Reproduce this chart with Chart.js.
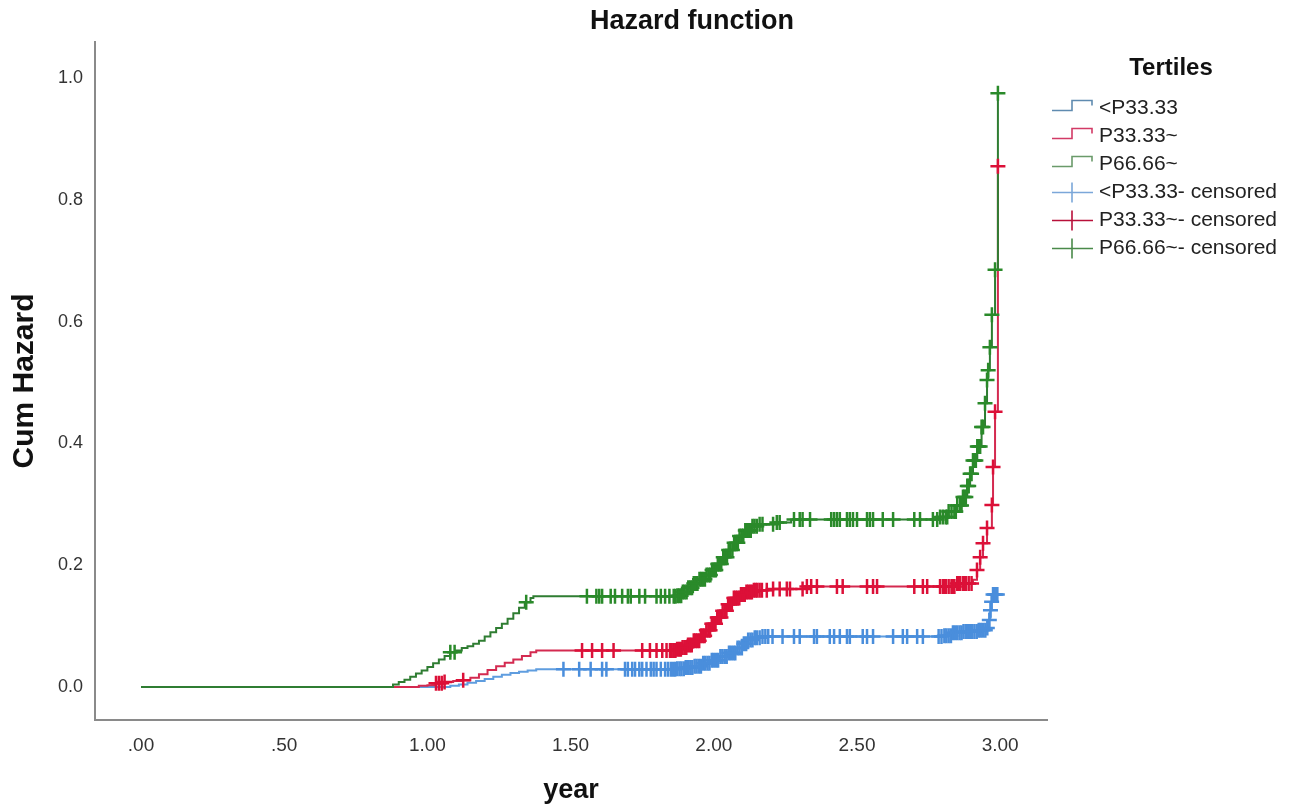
<!DOCTYPE html>
<html>
<head>
<meta charset="utf-8">
<title>Hazard function</title>
<script src="https://cdn.jsdelivr.net/npm/chart.js@4.4.1/dist/chart.umd.min.js"></script>
<style>
  body { margin: 0; background: #fff; }
  #wrap { width: 1303px; height: 804px; }
</style>
</head>
<body>
<div id="wrap"><canvas id="hazardChart"></canvas></div>
<script>
// axis ticks
const xTicks = [0, 0.5, 1, 1.5, 2, 2.5, 3];
const xTickLabels = [".00", ".50", "1.00", "1.50", "2.00", "2.50", "3.00"];
const yTicks = [0, 0.2, 0.4, 0.6, 0.8, 1.0];
const yTickLabels = ["0.0", "0.2", "0.4", "0.6", "0.8", "1.0"];

const chartTitle = "Hazard function";
const groups = ["<P33.33", "P33.33~", "P66.66~"];
const legendTitle = "Tertiles";

// cumulative hazard: step times (year) and values
const lowTime = [0, 1.08, 1.11, 1.14, 1.17, 1.20, 1.23, 1.26, 1.29, 1.32, 1.35, 1.38, 1.87, 1.90, 1.93, 1.96, 1.99, 2.02, 2.05, 2.08, 2.10, 2.12, 2.14, 2.17, 2.80, 2.83, 2.87, 2.92, 2.955, 2.962, 2.966, 2.970, 2.975, 2.995];
const lowHaz = [0, 0.002, 0.004, 0.007, 0.010, 0.013, 0.017, 0.020, 0.023, 0.025, 0.027, 0.029, 0.030, 0.032, 0.034, 0.039, 0.044, 0.050, 0.056, 0.064, 0.071, 0.077, 0.081, 0.083, 0.084, 0.089, 0.091, 0.093, 0.097, 0.110, 0.126, 0.140, 0.152, 0.152];

const midTime = [0, 0.97, 1.00, 1.03, 1.06, 1.09, 1.12, 1.15, 1.18, 1.21, 1.24, 1.27, 1.30, 1.33, 1.36, 1.38, 1.87, 1.89, 1.91, 1.93, 1.95, 1.97, 1.99, 2.01, 2.03, 2.05, 2.07, 2.09, 2.11, 2.14, 2.20, 2.32, 2.85, 2.905, 2.919, 2.93, 2.94, 2.954, 2.971, 2.975, 2.982, 2.992];
const midHaz = [0, 0.002, 0.003, 0.006, 0.008, 0.010, 0.011, 0.015, 0.021, 0.028, 0.034, 0.040, 0.045, 0.051, 0.057, 0.060, 0.062, 0.065, 0.069, 0.076, 0.084, 0.093, 0.104, 0.114, 0.125, 0.136, 0.146, 0.152, 0.156, 0.159, 0.161, 0.165, 0.170, 0.176, 0.192, 0.213, 0.236, 0.261, 0.299, 0.361, 0.452, 0.855];

const highTime = [0, 0.86, 0.88, 0.90, 0.92, 0.94, 0.96, 0.98, 1.00, 1.02, 1.04, 1.06, 1.08, 1.10, 1.12, 1.14, 1.16, 1.18, 1.20, 1.22, 1.24, 1.26, 1.28, 1.30, 1.32, 1.34, 1.36, 1.37, 1.87, 1.89, 1.91, 1.93, 1.95, 1.97, 1.99, 2.01, 2.03, 2.05, 2.07, 2.09, 2.11, 2.13, 2.16, 2.21, 2.27, 2.79, 2.82, 2.85, 2.87, 2.885, 2.895, 2.905, 2.92, 2.935, 2.947, 2.954, 2.958, 2.964, 2.971, 2.982, 2.992];
const highHaz = [0, 0.000, 0.004, 0.008, 0.012, 0.017, 0.022, 0.027, 0.033, 0.039, 0.045, 0.051, 0.057, 0.060, 0.064, 0.067, 0.071, 0.076, 0.083, 0.090, 0.097, 0.104, 0.112, 0.121, 0.130, 0.139, 0.146, 0.149, 0.150, 0.156, 0.163, 0.170, 0.177, 0.184, 0.192, 0.202, 0.213, 0.225, 0.237, 0.248, 0.257, 0.264, 0.267, 0.270, 0.275, 0.279, 0.288, 0.298, 0.312, 0.330, 0.350, 0.372, 0.395, 0.427, 0.466, 0.504, 0.520, 0.558, 0.611, 0.685, 0.975];

// censored times (year)
const lowCens = [1.475, 1.53, 1.57, 1.61, 1.625, 1.69, 1.70, 1.715, 1.725, 1.74, 1.75, 1.765, 1.78, 1.79, 1.80, 1.815, 1.83, 1.84,
  1.85, 1.858, 1.865, 1.872, 1.88, 1.887, 1.895, 1.902, 1.91, 1.918, 1.925, 1.933, 1.94, 1.948, 1.955, 1.963, 1.97, 1.978, 1.985, 1.993,
  2.0, 2.008, 2.015, 2.023, 2.03, 2.038, 2.045, 2.053, 2.06, 2.068, 2.075, 2.083, 2.09, 2.098, 2.105, 2.113, 2.12, 2.128, 2.135, 2.143,
  2.15, 2.16, 2.17, 2.18, 2.19, 2.205, 2.24, 2.28, 2.30, 2.35, 2.36, 2.405, 2.42, 2.44, 2.465, 2.475, 2.52, 2.535, 2.556, 2.626, 2.66,
  2.675, 2.71, 2.73, 2.785, 2.795, 2.805, 2.812, 2.82, 2.828, 2.835, 2.842, 2.85, 2.858, 2.865, 2.872, 2.88, 2.888, 2.895, 2.902, 2.91,
  2.918, 2.925, 2.932, 2.94, 2.948, 2.955, 2.962, 2.966, 2.970, 2.975, 2.98, 2.985, 2.99];
const midCens = [1.03, 1.04, 1.05, 1.06, 1.125, 1.54, 1.575, 1.61, 1.65, 1.75, 1.777, 1.80, 1.82, 1.835,
  1.847, 1.853, 1.86, 1.866, 1.872, 1.879, 1.885, 1.891, 1.898, 1.904, 1.91, 1.917, 1.923, 1.93, 1.936, 1.942, 1.949, 1.955, 1.962,
  1.968, 1.974, 1.981, 1.987, 1.993, 2.0, 2.006, 2.012, 2.019, 2.025, 2.031, 2.038, 2.044, 2.05, 2.057, 2.063, 2.07, 2.076, 2.082,
  2.089, 2.095, 2.101, 2.108, 2.114, 2.12, 2.127, 2.133, 2.14, 2.146, 2.152, 2.16, 2.168, 2.185, 2.207, 2.23, 2.255, 2.266, 2.31,
  2.325, 2.34, 2.36, 2.43, 2.45, 2.535, 2.556, 2.57, 2.70, 2.73, 2.745, 2.79, 2.80, 2.805, 2.81, 2.82, 2.83, 2.835, 2.84, 2.85,
  2.855, 2.86, 2.87, 2.875, 2.88, 2.89, 2.90, 2.919, 2.93, 2.94, 2.954, 2.971, 2.975, 2.982, 2.992];
const highCens = [1.08, 1.095, 1.345, 1.557, 1.59, 1.60, 1.61, 1.64, 1.655, 1.68, 1.70, 1.71, 1.74, 1.76, 1.80, 1.815, 1.83, 1.845,
  1.86, 1.866, 1.873, 1.879, 1.886, 1.892, 1.898, 1.905, 1.911, 1.918, 1.924, 1.93, 1.937, 1.943, 1.95, 1.956, 1.962, 1.969, 1.975,
  1.982, 1.988, 1.994, 2.001, 2.007, 2.014, 2.02, 2.026, 2.033, 2.039, 2.046, 2.052, 2.058, 2.065, 2.071, 2.078, 2.084, 2.09, 2.097,
  2.103, 2.11, 2.116, 2.122, 2.129, 2.135, 2.142, 2.15, 2.16, 2.17, 2.207, 2.22, 2.23, 2.28, 2.30, 2.31, 2.336, 2.41, 2.42, 2.43,
  2.44, 2.465, 2.475, 2.486, 2.50, 2.535, 2.545, 2.556, 2.59, 2.626, 2.70, 2.72, 2.765, 2.78, 2.79, 2.80, 2.81, 2.815, 2.82, 2.83,
  2.84, 2.845, 2.85, 2.86, 2.865, 2.87, 2.875, 2.88, 2.885, 2.89, 2.895, 2.90, 2.905, 2.91, 2.915, 2.92, 2.925, 2.93, 2.935, 2.94,
  2.947, 2.954, 2.958, 2.964, 2.971, 2.982, 2.992];

const lineColors = ["#5f9ddf", "#d42a50", "#2f7d32"];
const censColors = ["#4a8edc", "#dc1038", "#2a8a2a"];
const legendLineColors = ["#5f8bb0", "#d23a66", "#6a9a6a"];
const legendCrossColors = ["#7ba7d9", "#b8103a", "#4a8a4a"];
const FONT = "'Liberation Sans', Arial, sans-serif";

function hazardAt(times, haz, t) {
  let v = 0;
  for (let i = 0; i < times.length; i++) {
    if (times[i] <= t) v = haz[i];
    else break;
  }
  return v;
}

function stepPoints(times, haz) {
  return times.map((t, i) => ({ x: t, y: haz[i] }));
}

function censPoints(cens, times, haz) {
  return cens.map((t) => ({ x: t, y: hazardAt(times, haz, t) }));
}

const series = [
  [lowTime, lowHaz, lowCens],
  [midTime, midHaz, midCens],
  [highTime, highHaz, highCens],
];

const datasets = [];
series.forEach(([times, haz, cens], i) => {
  datasets.push({
    label: groups[i],
    data: stepPoints(times, haz),
    stepped: true,
    borderColor: lineColors[i],
    borderWidth: 2,
    pointRadius: 0,
    fill: false,
    order: 6 - i,
  });
  datasets.push({
    label: groups[i] + "- censored",
    data: censPoints(cens, times, haz),
    showLine: false,
    pointStyle: "cross",
    pointRadius: 7.5,
    pointBorderWidth: 2.5,
    borderColor: censColors[i],
    pointBorderColor: censColors[i],
    order: 3 - i,
  });
});

// title over the whole plot + legend on the right, SPSS style
const legendPlugin = {
  id: "tertileLegend",
  afterDraw(chart) {
    const ctx = chart.ctx;
    ctx.save();
    ctx.fillStyle = "#111";
    ctx.textBaseline = "middle";
    ctx.textAlign = "center";
    ctx.font = "bold 27px " + FONT;
    ctx.fillText(chartTitle, 692, 22);

    ctx.font = "bold 24px " + FONT;
    ctx.fillText(legendTitle, 1171, 68);

    ctx.font = "21px " + FONT;
    ctx.textAlign = "left";
    const names = groups.concat(groups.map((g) => g + "- censored"));
    names.forEach((name, k) => {
      const cy = 108.5 + k * 28;
      ctx.lineWidth = 1.6;
      if (k < 3) {
        ctx.strokeStyle = legendLineColors[k];
        ctx.beginPath();
        ctx.moveTo(1052, cy + 2);
        ctx.lineTo(1072, cy + 2);
        ctx.lineTo(1072, cy - 8);
        ctx.lineTo(1092, cy - 8);
        ctx.lineTo(1092, cy - 3);
        ctx.stroke();
      } else {
        ctx.strokeStyle = legendCrossColors[k - 3];
        ctx.beginPath();
        ctx.moveTo(1052, cy);
        ctx.lineTo(1093, cy);
        ctx.moveTo(1072, cy - 10);
        ctx.lineTo(1072, cy + 10);
        ctx.stroke();
      }
      ctx.fillStyle = "#222";
      ctx.fillText(name, 1099, cy);
    });
    ctx.restore();
  },
};

new Chart(document.getElementById("hazardChart"), {
  type: "line",
  data: { datasets: datasets },
  plugins: [legendPlugin],
  options: {
    responsive: true,
    maintainAspectRatio: false,
    animation: false,
    layout: { padding: { left: 0, right: 256, top: 42, bottom: 0 } },
    plugins: {
      legend: { display: false },
      tooltip: { enabled: false },
      title: { display: false },
    },
    scales: {
      x: {
        type: "linear",
        min: -0.1606,
        max: 3.1634,
        afterBuildTicks: (s) => { s.ticks = xTicks.map((v) => ({ value: v })); },
        afterFit: (s) => { s.height = 84; },
        grid: { display: false, drawTicks: false },
        border: { display: true, color: "#8a8a8a", width: 2 },
        ticks: {
          autoSkip: false,
          maxRotation: 0,
          padding: 14,
          color: "#333",
          font: { family: "'Liberation Sans Narrow', 'Arial Narrow', " + FONT, size: 19 },
          callback: (v, i) => xTickLabels[i],
        },
        title: {
          display: true,
          text: "year",
          color: "#111",
          font: { family: FONT, size: 27, weight: "bold", lineHeight: 1 },
          padding: 0,
        },
      },
      y: {
        type: "linear",
        min: -0.0542,
        max: 1.059,
        afterBuildTicks: (s) => { s.ticks = yTicks.map((v) => ({ value: v })); },
        afterFit: (s) => { s.width = 95; },
        grid: { display: false, drawTicks: false },
        border: { display: true, color: "#8a8a8a", width: 2 },
        ticks: {
          padding: 12,
          color: "#333",
          font: { family: FONT, size: 18 },
          callback: (v, i) => yTickLabels[i],
        },
        title: {
          display: true,
          text: "Cum Hazard",
          color: "#111",
          font: { family: FONT, size: 30, weight: "bold", lineHeight: 1 },
          padding: { top: 10, bottom: 0 },
        },
      },
    },
  },
});
</script>
</body>
</html>
